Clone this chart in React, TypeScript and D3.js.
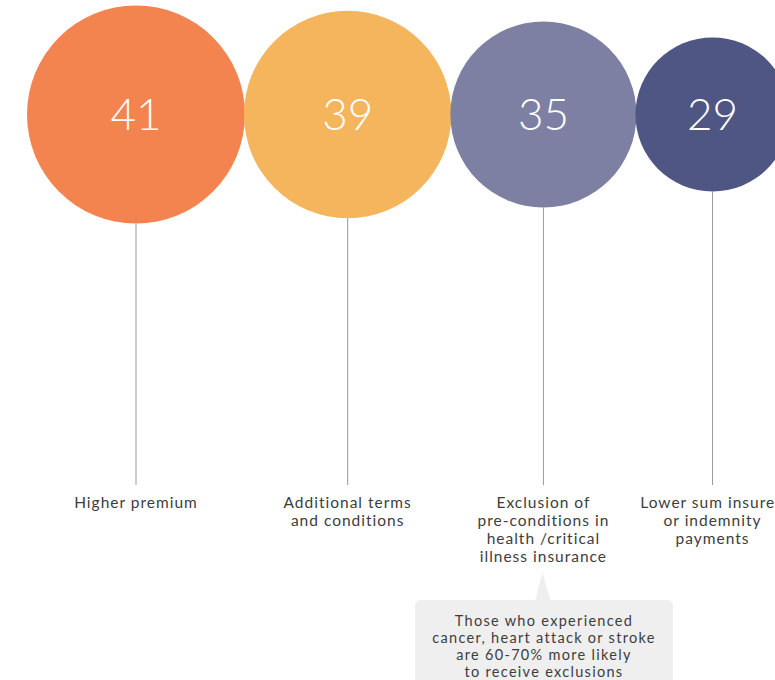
import React from "react";
import * as d3 from "d3";

const categories: string[][] = [
  ["Higher premium"],
  ["Additional terms", "and conditions"],
  ["Exclusion of", "pre-conditions in", "health /critical", "illness insurance"],
  ["Lower sum insured", "or indemnity", "payments"],
];
const values: number[] = [41, 39, 35, 29];
const colors: string[] = ["#F4844F", "#F4B55C", "#7D80A3", "#4F5683"];
const noteLines: string[] = [
  "Those who experienced",
  "cancer, heart attack or stroke",
  "are 60-70% more likely",
  "to receive exclusions",
];
const noteIndex = 2;

export default function App() {
  const W = 775, H = 680;
  const r = d3.scaleLinear().domain([0, 41]).range([0, 109]);
  const cy = 114.5;
  const startX = 27;
  const overlap = 1;
  const centers: number[] = [];
  let x = startX;
  values.forEach((v) => {
    const rad = r(v);
    centers.push(x + rad);
    x = x + 2 * rad - overlap;
  });
  const lineBottom = 485;
  const labelFont = "Lato, 'Open Sans', sans-serif";
  const numFont = "Lato, 'Open Sans', sans-serif";
  const nx = centers[noteIndex];
  return (
    <svg width={W} height={H} style={{ position: "absolute", left: 0, top: 0 }}>
      {values.map((v, i) => (
        <line key={"l" + i} x1={centers[i]} x2={centers[i]} y1={cy + r(v)} y2={lineBottom} stroke="#999" strokeWidth={1} />
      ))}
      {values.map((v, i) => (
        <g key={"c" + i}>
          <circle cx={centers[i]} cy={cy} r={r(v)} fill={colors[i]} />
          <text x={centers[i]} y={cy} dy="0.36em" textAnchor="middle" fill="#fff" fontFamily={numFont} fontWeight={300} fontSize={44}>
            {v}
          </text>
        </g>
      ))}
      {categories.map((lines, i) => (
        <text key={"t" + i} textAnchor="middle" fill="#3d3d3d" fontFamily={labelFont} fontSize={15.5} letterSpacing={1}>
          {lines.map((ln, j) => (
            <tspan key={j} x={centers[i]} y={508 + j * 18}>{ln}</tspan>
          ))}
        </text>
      ))}
      <path d={`M${nx - 1},572 L${nx - 8},600 L${nx + 7},600 Z`} fill="#efefef" />
      <rect x={415} y={600} width={258} height={100} rx={6} fill="#efefef" />
      <text textAnchor="middle" fill="#3d3d3d" fontFamily={labelFont} fontSize={14.5} letterSpacing={1.3}>
        {noteLines.map((ln, j) => (
          <tspan key={j} x={544} y={626 + j * 17}>{ln}</tspan>
        ))}
      </text>
    </svg>
  );
}
